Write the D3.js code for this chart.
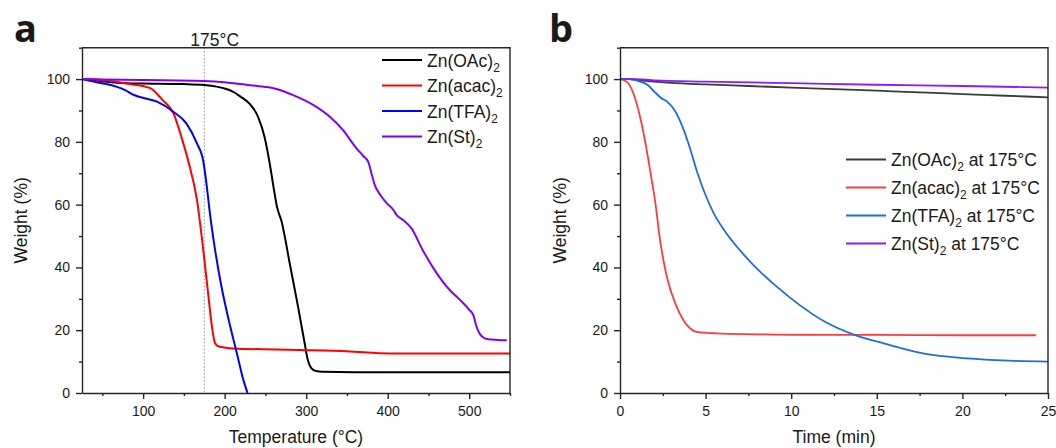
<!DOCTYPE html>
<html>
<head>
<meta charset="utf-8">
<script src="https://cdn.jsdelivr.net/npm/d3@7"></script>
<style>
    html, body { margin: 0; padding: 0; background: #fff; }
    svg text { font-family: "Liberation Sans", Arial, sans-serif; fill: #1a1a1a; }
</style>
</head>
<body>
<svg id="chart" width="1056" height="448"></svg>
<script>

/* ------------------------------
   DATA
------------------------------ */

// panel a : TGA, weight (%) vs temperature (°C)
const tempOAc  = [25, 50, 80, 100, 150, 175, 190, 200, 210, 219, 231, 241, 249, 255, 260, 264, 270, 280, 290, 298, 302, 306, 311, 320, 400, 550];
const wtOAc    = [100, 99.3, 98.7, 98.6, 98.4, 98.1, 97.6, 97.0, 96.0, 94.5, 92.0, 88.0, 81.5, 73.5, 65.5, 59.5, 54.5, 41, 27.5, 16, 10.5, 8, 7.1, 6.8, 6.6, 6.6];

const tempAcac = [25, 50, 84, 108, 124, 137, 147, 155, 166, 174, 180, 185, 188, 192, 200, 210, 292, 350, 403, 550];
const wtAcac   = [100, 99.7, 98.4, 97.2, 93.3, 89.2, 81.5, 74.2, 61.5, 45, 31, 20, 16, 14.9, 14.5, 14.2, 13.7, 13.3, 12.6, 12.6];

const tempTFA  = [25, 39, 55, 67, 78, 88, 96, 117, 137, 153, 166, 174, 178, 182, 188, 196, 207, 215, 223, 228];
const wtTFA    = [100, 99.2, 98.4, 97.6, 96.5, 95.0, 94.3, 92.8, 89.6, 85.9, 79.5, 73.5, 66, 57, 46, 34, 21, 12.6, 4.1, 0];

const tempSt   = [25, 75, 125, 175, 200, 219, 240, 260, 284, 309, 329, 345, 360, 370, 376, 380, 384, 391, 399, 407, 411, 419, 429, 443, 460, 476, 489, 500, 505, 509, 512, 516, 523, 535, 546];
const wtSt     = [100, 99.8, 99.6, 99.4, 99.0, 98.4, 97.8, 97.1, 94.9, 91.7, 88.0, 83.8, 78.5, 75.5, 73.7, 70, 66.3, 63.1, 60.4, 58.3, 56.7, 55.1, 52.5, 45.5, 38.2, 32.8, 29.6, 26.5, 24.8, 21.1, 19.3, 17.9, 17.1, 16.9, 16.8];

// panel b : isothermal at 175 °C, weight (%) vs time (min)
const timeOAc  = [0, 0.5, 1, 2, 3, 5, 7.5, 10, 12.5, 15, 17.5, 20, 22.5, 25];
const isoOAc   = [100, 100, 99.7, 99.2, 98.8, 98.3, 97.8, 97.3, 96.8, 96.3, 95.8, 95.2, 94.7, 94.2];

const timeAcac = [0, 0.39, 0.78, 1.17, 1.56, 1.85, 2.04, 2.34, 2.73, 3.31, 3.9, 4.48, 5.65, 8, 10.5, 15, 20, 24.3];
const isoAcac  = [100, 99.2, 95.5, 88.0, 77.4, 67.9, 61.5, 48.7, 37.1, 27.5, 21.7, 19.5, 19.0, 18.7, 18.5, 18.5, 18.4, 18.4];

const timeTFA  = [0, 0.6, 1.17, 1.6, 2.0, 2.4, 2.8, 3.2, 3.6, 4.0, 4.5, 5.0, 5.5, 6.2, 7.0, 8.0, 9.0, 10.5, 12.0, 13.7, 15.4, 17.7, 20.3, 22.7, 25];
const isoTFA   = [100, 100, 99.2, 98.2, 96.0, 94.0, 92.6, 90.0, 85.5, 79.5, 70.5, 63.0, 57.0, 51.0, 45.5, 39.6, 34.6, 28.0, 22.6, 18.5, 15.8, 12.6, 11.0, 10.3, 10.0];

const timeSt   = [0, 1, 2, 5, 10, 15, 20, 25];
const isoSt    = [100, 100, 99.6, 99.2, 98.7, 98.2, 97.8, 97.3];

// ticks and labels
const yMajor = [0, 20, 40, 60, 80, 100];
const yMinor = [10, 30, 50, 70, 90, 110];
const tempMajor = [100, 200, 300, 400, 500];
const tempMinor = [50, 150, 250, 350, 450, 550];
const timeMajor = [0, 5, 10, 15, 20, 25];
const timeMinor = [2.5, 7.5, 12.5, 17.5, 22.5];

const compounds = ["Zn(OAc)", "Zn(acac)", "Zn(TFA)", "Zn(St)"];
const isoSuffix = " at 175°C";


/* ------------------------------
   SETUP
------------------------------ */

const svg = d3.select("#chart");

const plotTop = 47.7;
const plotBottom = 393;

const y = d3.scaleLinear().domain([0, 110]).range([plotBottom, plotTop]);

const xTemp = d3.scaleLinear().domain([25, 550]).range([82, 510]);
const xTime = d3.scaleLinear().domain([0, 25]).range([620, 1048]);


/* ------------------------------
   PANEL DRAWING
------------------------------ */

function drawPanel(cfg) {

    const x = cfg.x;
    const [x0, x1] = x.range();
    const g = svg.append("g");

    const clipId = "clip-" + cfg.name;
    svg.append("clipPath").attr("id", clipId)
        .append("rect")
        .attr("x", x0).attr("y", plotTop)
        .attr("width", x1 - x0).attr("height", plotBottom - plotTop);

    // optional marker line under the curves
    if (cfg.marker) cfg.marker(g);

    const line = d3.line()
        .x(d => x(d[0]))
        .y(d => y(d[1]))
        .curve(d3.curveMonotoneX);

    cfg.series.forEach(s => {
        g.append("path")
            .attr("clip-path", "url(#" + clipId + ")")
            .attr("d", line(d3.zip(s.xs, s.ys)))
            .attr("fill", "none")
            .attr("stroke", s.color)
            .attr("stroke-width", cfg.lineWidth)
            .attr("stroke-linejoin", "round");
    });

    // axes
    const axisColor = "#262626";

    const xAxis = g.append("g")
        .attr("transform", "translate(0," + plotBottom + ")")
        .call(d3.axisBottom(x).tickValues(cfg.xMajor).tickSize(6).tickSizeOuter(0).tickPadding(7).tickFormat(d3.format("d")));

    const xMin = g.append("g")
        .attr("transform", "translate(0," + plotBottom + ")")
        .call(d3.axisBottom(x).tickValues(cfg.xMinor).tickSize(3).tickFormat(""));
    xMin.select(".domain").remove();

    const yAxis = g.append("g")
        .attr("transform", "translate(" + x0 + ",0)")
        .call(d3.axisLeft(y).tickValues(yMajor).tickSize(6).tickSizeOuter(0).tickPadding(6));

    const yMin = g.append("g")
        .attr("transform", "translate(" + x0 + ",0)")
        .call(d3.axisLeft(y).tickValues(yMinor).tickSize(3).tickFormat(""));
    yMin.select(".domain").remove();

    [xAxis, xMin, yAxis, yMin].forEach(a => {
        a.selectAll("path, line").attr("stroke", axisColor).attr("stroke-width", 1.4);
        a.selectAll("text")
            .style("font-size", "14px")
            .style("font-family", "'Liberation Sans', Arial, sans-serif")
            .attr("fill", "#1a1a1a");
    });

    // top and right frame
    g.append("path")
        .attr("d", "M" + x0 + "," + plotTop + "H" + x1 + "V" + plotBottom)
        .attr("fill", "none")
        .attr("stroke", axisColor)
        .attr("stroke-width", 1.4);

    // axis titles
    g.append("text")
        .attr("x", (x0 + x1) / 2)
        .attr("y", 443)
        .attr("text-anchor", "middle")
        .style("font-size", "17.5px")
        .text(cfg.xTitle);

    g.append("text")
        .attr("transform", "translate(" + cfg.yTitleX + "," + ((plotTop + plotBottom) / 2) + ") rotate(-90)")
        .attr("text-anchor", "middle")
        .style("font-size", "17.5px")
        .text("Weight (%)");

    // panel letter
    g.append("text")
        .attr("x", cfg.letterX)
        .attr("y", 42)
        .style("font-family", "'Open Sans', 'Liberation Sans', sans-serif")
        .style("font-weight", "700")
        .style("font-size", "38px")
        .attr("fill", "#000")
        .text(cfg.name);

    // legend
    cfg.series.forEach((s, i) => {
        const ly = cfg.legend.y + i * cfg.legend.step;

        g.append("line")
            .attr("x1", cfg.legend.x).attr("x2", cfg.legend.x + 40)
            .attr("y1", ly).attr("y2", ly)
            .attr("stroke", s.color)
            .attr("stroke-width", cfg.lineWidth);

        const t = g.append("text")
            .attr("x", cfg.legend.x + 45)
            .attr("y", ly + 6.5)
            .style("font-size", "17.5px");

        t.append("tspan").text(s.label);
        t.append("tspan").attr("dy", 5).style("font-size", "12px").text("2");
        if (s.suffix) t.append("tspan").attr("dy", -5).text(s.suffix);
    });
}


/* ------------------------------
   PANEL a
------------------------------ */

drawPanel({
    name: "a",
    x: xTemp,
    xMajor: tempMajor,
    xMinor: tempMinor,
    xTitle: "Temperature (°C)",
    yTitleX: 27,
    letterX: 14,
    lineWidth: 2,
    legend: { x: 382, y: 60, step: 25.5 },
    series: [
        { xs: tempOAc,  ys: wtOAc,  color: "#000000", label: compounds[0] },
        { xs: tempAcac, ys: wtAcac, color: "#ff0000", label: compounds[1] },
        { xs: tempTFA,  ys: wtTFA,  color: "#0000ff", label: compounds[2] },
        { xs: tempSt,   ys: wtSt,   color: "#8000ff", label: compounds[3] }
    ],
    marker: function (g) {
        g.append("line")
            .attr("x1", xTemp(175)).attr("x2", xTemp(175))
            .attr("y1", plotTop).attr("y2", plotBottom)
            .attr("stroke", "#909090")
            .attr("stroke-width", 1)
            .attr("stroke-dasharray", "1.5,2");

        g.append("text")
            .attr("x", xTemp(175) - 14)
            .attr("y", 46)
            .style("font-size", "17.5px")
            .text("175°C");
    }
});


/* ------------------------------
   PANEL b
------------------------------ */

drawPanel({
    name: "b",
    x: xTime,
    xMajor: timeMajor,
    xMinor: timeMinor,
    xTitle: "Time (min)",
    yTitleX: 566,
    letterX: 549,
    lineWidth: 1.8,
    legend: { x: 846, y: 159.5, step: 28 },
    series: [
        { xs: timeOAc,  ys: isoOAc,  color: "#3a3a3a", label: compounds[0], suffix: isoSuffix },
        { xs: timeAcac, ys: isoAcac, color: "#ff3b3b", label: compounds[1], suffix: isoSuffix },
        { xs: timeTFA,  ys: isoTFA,  color: "#1a6ee8", label: compounds[2], suffix: isoSuffix },
        { xs: timeSt,   ys: isoSt,   color: "#8b1aff", label: compounds[3], suffix: isoSuffix }
    ]
});

</script>
</body>
</html>
